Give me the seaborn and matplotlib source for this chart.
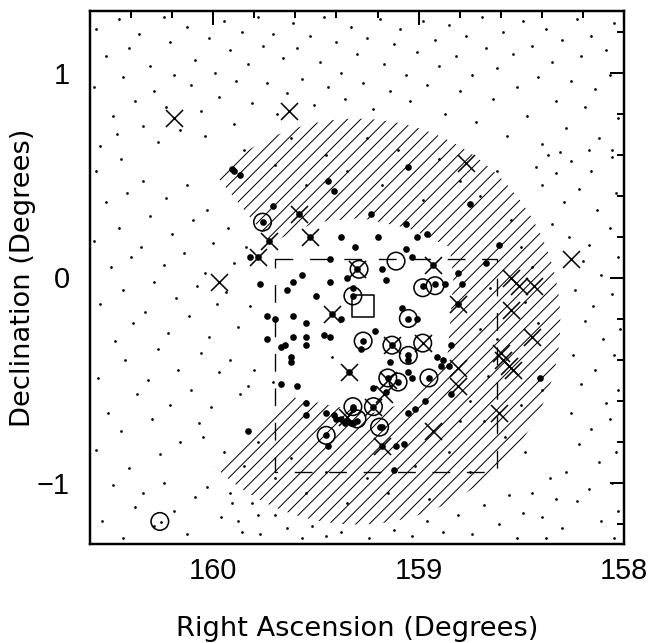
import matplotlib
matplotlib.use("Agg")
import matplotlib.pyplot as plt
import matplotlib.patches as mpatches
from matplotlib.path import Path
from matplotlib.ticker import MultipleLocator
import seaborn as sns

# ---- data (RA, Dec in degrees) ----
# faint field stars, north band
top_ra = [160.57, 160.52, 160.58, 160.49, 160.55, 160.46, 160.41, 160.44, 160.38, 160.47,
          160.36, 160.31, 160.29, 160.34, 160.27, 160.24, 160.21, 160.19, 160.23, 160.16,
          160.13, 160.09, 160.11, 160.06, 160.02, 160.04, 159.99, 159.97, 159.95, 159.92,
          159.89, 159.90, 159.86, 159.83, 159.81, 159.78, 159.76, 159.74, 159.71, 159.69,
          159.66, 159.64, 159.61, 159.59, 159.57, 159.53, 159.51, 159.48, 159.46, 159.44,
          159.40, 159.38, 159.36, 159.33, 159.30, 159.27, 159.25, 159.22, 159.19, 159.17,
          159.14, 159.12, 159.09, 159.06, 159.04, 159.01, 158.98, 158.96, 158.92, 158.90,
          158.87, 158.85, 158.82, 158.80, 158.77, 158.74, 158.72, 158.69, 158.67, 158.64,
          158.62, 158.59, 158.57, 158.54, 158.52, 158.49, 158.47, 158.45, 158.42, 158.40,
          158.38, 158.35, 158.33, 158.30, 158.28, 158.26, 158.23, 158.21, 158.19, 158.16,
          158.14, 158.12, 158.09, 158.07, 158.05, 158.03, 158.06, 158.17, 158.31]
top_dec = [1.21, 1.08, 0.93, 0.79, 0.64, 1.26, 1.12, 0.98, 0.86, 0.70,
           1.19, 1.03, 0.91, 0.74, 0.66, 1.27, 1.15, 0.99, 0.83, 0.72,
           1.22, 1.06, 0.94, 0.81, 1.17, 0.69, 1.00, 0.88, 1.25, 1.11,
           0.96, 0.75, 1.20, 1.04, 0.85, 1.27, 1.13, 0.95, 1.19, 0.80,
           1.07, 0.90, 1.24, 1.12, 0.97, 1.18, 0.84, 1.05, 1.27, 0.93,
           1.15, 1.00, 0.87, 1.22, 1.09, 0.95, 1.17, 0.82, 1.26, 1.04,
           0.91, 1.14, 1.21, 0.99, 0.86, 1.10, 1.25, 0.94, 1.16, 1.03,
           0.80, 1.23, 1.08, 0.91, 1.18, 0.99, 0.76, 1.27, 1.12, 0.87,
           1.02, 1.20, 0.69, 1.09, 0.93, 1.25, 0.79, 1.13, 0.98, 0.65,
           1.21, 1.05, 0.86, 1.16, 0.73, 0.96, 1.26, 1.08, 0.83, 1.18,
           0.92, 0.68, 1.11, 0.99, 1.24, 0.78, 0.62, 0.62, 0.61]

# faint field stars, east (left) band
left_ra = [160.57, 160.52, 160.58, 160.50, 160.55, 160.48, 160.56, 160.51, 160.57, 160.49,
           160.54, 160.45, 160.42, 160.46, 160.40, 160.44, 160.39, 160.43, 160.37, 160.45,
           160.41, 160.38, 160.44, 160.34, 160.31, 160.35, 160.29, 160.33, 160.27, 160.32,
           160.30, 160.26, 160.34, 160.29, 160.23, 160.20, 160.24, 160.18, 160.22, 160.17,
           160.21, 160.16, 160.19, 160.24, 160.13, 160.10, 160.14, 160.08, 160.12, 160.06,
           160.11, 160.07, 160.09, 160.13, 160.03, 160.00, 160.04, 159.98, 160.02, 159.97,
           160.01, 159.96, 160.03, 159.93, 159.90, 159.94, 159.88, 159.92, 159.87, 159.91,
           159.86, 159.84, 159.82, 159.80, 159.83, 159.78, 159.71, 159.42, 160.255]
left_dec = [0.52, 0.37, 0.18, 0.05, -0.13, -0.31, -0.49, -0.66, -0.84, -1.01,
            -1.19, 0.58, 0.41, 0.24, 0.10, -0.06, -0.22, -0.40, -0.57, -0.75,
            -0.93, -1.12, -1.27, 0.47, 0.30, 0.15, -0.02, -0.17, -0.35, -0.50,
            -0.69, -0.86, -1.05, -1.21, 0.39, 0.21, 0.06, -0.10, -0.27, -0.45,
            -0.62, -0.80, -1.14, -1.00, 0.45, 0.28, 0.12, -0.04, -0.19, -0.37,
            -0.55, -0.71, -1.07, -1.25, 0.33, 0.17, 0.02, -0.13, -0.29, -0.46,
            -0.63, -1.17, -1.02, 0.24, 0.07, -0.07, -0.24, -0.40, -0.57, -1.10,
            -1.24, 0.15, -0.14, -0.45, -0.53, -1.16, -0.51, -0.39, -1.195]

# faint field stars, west (right) band
right_ra = [158.43, 158.37, 158.40, 158.33, 158.29, 158.35, 158.26, 158.22, 158.27, 158.20,
            158.24, 158.19, 158.25, 158.21, 158.26, 158.22, 158.28, 158.23, 158.30, 158.16,
            158.13, 158.17, 158.11, 158.15, 158.10, 158.14, 158.09, 158.16, 158.12, 158.17,
            158.11, 158.06, 158.04, 158.07, 158.03, 158.06, 158.02, 158.05, 158.03, 158.07,
            158.04, 158.06, 158.03, 158.05, 158.36, 158.33, 158.40, 158.38, 158.45]
right_dec = [0.54, 0.60, 0.45, 0.51, 0.37, 0.26, 0.57, 0.43, 0.20, 0.08,
             -0.06, -0.21, -0.38, -0.52, -0.66, -0.81, -0.95, -1.09, -1.22, 0.52,
             0.33, 0.16, 0.01, -0.14, -0.30, -0.45, -0.61, -0.74, -0.90, -1.03,
             -1.19, 0.59, 0.41, 0.24, 0.10, -0.08, -0.25, -0.38, -0.55, -0.69,
             -0.85, -1.00, -1.14, -1.27, -0.98, -1.08, -1.17, -1.27, -1.05]

# faint field stars, south band and inside the hatched annulus
low_ra = [159.92, 159.88, 159.81, 159.77, 159.70, 159.64, 159.57, 159.52, 159.45, 159.38,
          159.24, 159.12, 159.03, 158.96, 158.88, 158.81, 158.74, 158.68, 158.61, 158.56,
          158.52, 158.49,
          159.85, 159.70, 159.62, 159.55, 159.45, 159.35, 159.25, 159.18, 159.10, 158.98,
          158.90, 158.80, 158.70, 158.62, 158.55, 158.50, 158.45,
          158.65, 158.70, 158.62, 158.48, 158.42, 158.40, 158.50, 158.66, 158.75, 158.58,
          158.48,
          160.05, 159.95, 159.85, 159.78, 159.70, 159.62, 159.55, 159.45, 159.35, 159.25,
          159.15, 159.02, 158.95, 158.85, 158.75, 158.68, 158.80]
low_dec = [-1.05, -1.19, -1.10, -1.25, -1.16, -1.22, -1.27, -1.21, -1.26, -1.24,
           -1.27, -1.23, -1.26, -1.19, -1.24, -1.16, -1.25, -1.11, -1.20, -1.06,
           -1.27, -1.15,
           0.62, 0.55, 0.68, 0.45, 0.60, 0.52, 0.68, 0.45, 0.62, 0.38,
           0.58, 0.47, 0.40, 0.52, 0.28, 0.15, 0.05,
           -0.05, -0.25, -0.30, -0.12, -0.22, -0.55, -0.62, -0.48, -0.60, -0.78,
           -0.85,
           -0.78, -0.85, -0.92, -0.80, -0.98, -0.88, -1.05, -0.95, -1.10, -0.98,
           -1.05, -0.92, -1.08, -0.85, -0.95, -0.70, -0.70]

# cluster members (filled dots)
member_ra = [159.91, 159.90, 159.87, 159.05, 159.44, 159.41, 159.71, 158.75, 159.23, 159.06,
             159.38, 159.20, 159.01, 158.96, 158.61, 159.31, 159.82, 159.43, 159.06, 159.03,
             158.67, 159.18, 159.16, 159.35, 159.57, 159.61, 159.43, 158.81, 158.79, 158.87,
             159.77, 159.64, 159.32, 159.50, 159.74, 159.70, 159.61, 159.55, 159.38, 159.46,
             159.43, 159.61, 159.55, 159.74, 159.55, 159.65, 159.67, 159.62, 159.62, 159.21,
             159.28, 159.08, 159.01, 158.84, 159.14, 159.05, 159.05, 159.03, 158.91, 158.88,
             158.85, 158.89, 159.67, 159.59, 159.22, 159.16, 159.05, 159.02, 158.97, 158.84,
             158.41, 159.55, 159.55, 159.45, 159.41, 159.38, 159.35, 159.33, 159.30, 159.36,
             159.32, 159.40, 159.32, 159.18, 159.44, 159.12, 159.83, 159.11, 159.07,
             159.58, 159.53, 159.73, 159.78, 159.30, 158.93, 158.81, 159.42, 159.34, 159.18,
             159.76, 159.32, 159.05, 159.27, 158.98, 158.92, 158.95, 159.32, 159.19, 159.45,
             159.13, 159.05, 159.10, 159.15, 159.22]
member_dec = [0.53, 0.52, 0.50, 0.54, 0.47, 0.42, 0.35, 0.36, 0.31, 0.26,
              0.20, 0.20, 0.20, 0.21, 0.16, 0.15, 0.10, 0.09, 0.14, 0.10,
              0.07, 0.04, -0.01, 0.00, 0.01, -0.02, -0.02, 0.02, -0.03, -0.03,
              -0.03, -0.06, -0.05, -0.09, -0.19, -0.20, -0.19, -0.22, -0.20, -0.28,
              -0.29, -0.29, -0.29, -0.30, -0.33, -0.33, -0.34, -0.39, -0.41, -0.26,
              -0.35, -0.15, -0.20, -0.33, -0.41, -0.40, -0.46, -0.49, -0.39, -0.40,
              -0.43, -0.43, -0.52, -0.53, -0.54, -0.56, -0.66, -0.64, -0.60, -0.57,
              -0.49, -0.61, -0.67, -0.66, -0.67, -0.69, -0.70, -0.71, -0.70, -0.71,
              -0.71, -0.69, -0.64, -0.73, -0.82, -0.94, -0.75, -0.82, -0.81,
              0.31, 0.20, 0.18, 0.10, 0.04, 0.06, -0.13, -0.18, -0.46, -0.82,
              0.27, -0.09, -0.20, -0.31, -0.04, -0.03, -0.49, -0.63, -0.73, -0.77,
              -0.33, -0.38, -0.51, -0.49, -0.63]

circle_ra = [159.76, 159.29, 159.11, 158.98, 158.92, 159.32, 159.05, 159.27, 159.13, 159.05,
             158.98, 158.95, 159.10, 159.15, 159.32, 159.22, 159.19, 159.45, 159.30, 160.26]
circle_dec = [0.27, 0.04, 0.08, -0.05, -0.04, -0.09, -0.20, -0.31, -0.33, -0.38,
              -0.32, -0.49, -0.51, -0.49, -0.63, -0.63, -0.73, -0.77, -0.69, -1.19]

cross_ra = [160.19, 159.63, 158.77, 159.58, 159.53, 159.73, 159.78, 159.97, 159.30, 158.93,
            158.26, 158.55, 158.51, 158.44, 158.55, 158.81, 159.42, 158.45, 158.98, 159.13,
            158.60, 158.56, 158.54, 158.81, 158.81, 159.34, 159.15, 159.22, 159.17, 158.61,
            158.93, 159.18, 159.35, 158.59]
cross_dec = [0.78, 0.81, 0.56, 0.31, 0.20, 0.18, 0.10, -0.02, 0.04, 0.06,
             0.09, 0.00, -0.04, -0.04, -0.16, -0.13, -0.18, -0.29, -0.32, -0.33,
             -0.37, -0.43, -0.45, -0.44, -0.53, -0.46, -0.50, -0.63, -0.57, -0.66,
             -0.75, -0.82, -0.68, -0.40]

centre_ra = [159.27]
centre_dec = [-0.14]

# dashed field box
box_ra = [159.70, 158.62, 158.62, 159.70, 159.70]
box_dec = [0.09, 0.09, -0.95, -0.95, 0.09]

# hatched survey annulus: outer circle minus the inner hole (open towards the east)
ring_center = (159.30, -0.215)
ring_radius = 0.99
hole_ra = [160.7, 159.98, 159.72, 159.50, 159.28, 159.05, 158.85, 158.83, 158.85, 158.86,
           159.03, 159.22, 159.40, 159.63, 159.81, 159.98, 160.7]
hole_dec = [0.49, 0.49, 0.17, 0.27, 0.29, 0.24, 0.15, 0.0, -0.26, -0.39,
            -0.60, -0.66, -0.63, -0.58, -0.74, -0.92, -0.92]


def signed_area(pts):
    return 0.5 * sum(x0 * y1 - x1 * y0 for (x0, y0), (x1, y1) in zip(pts, pts[1:] + pts[:1]))


# ---- figure ----
sns.set_style("white")
plt.rcParams["font.family"] = ["Liberation Sans", "DejaVu Sans"]
plt.rcParams["lines.scale_dashes"] = False
plt.rcParams["hatch.linewidth"] = 0.9
for key in ["text.color", "axes.labelcolor", "xtick.color", "ytick.color", "axes.edgecolor"]:
    plt.rcParams[key] = "black"

DPI = 80
fig = plt.figure(figsize=(653 / DPI, 643 / DPI), dpi=DPI)
ax = fig.add_axes([90 / 653, 1 - 544 / 643, 534 / 653, 533 / 643])

ring = mpatches.Circle(ring_center, ring_radius, facecolor="none", edgecolor="black",
                       linewidth=0, hatch="//", zorder=1)
ax.add_patch(ring)
outer = [(161.0, -2.0), (157.0, -2.0), (157.0, 2.0), (161.0, 2.0)]
hole = list(zip(hole_ra, hole_dec))
if (signed_area(outer) > 0) == (signed_area(hole) > 0):
    hole = hole[::-1]
verts = outer + [outer[0]] + hole + [hole[0]]
codes = ([Path.MOVETO] + [Path.LINETO] * 3 + [Path.CLOSEPOLY]
         + [Path.MOVETO] + [Path.LINETO] * (len(hole) - 1) + [Path.CLOSEPOLY])
clip = mpatches.PathPatch(Path(verts, codes), transform=ax.transData)
ring.set_clip_path(clip)

for fra, fdec in [(top_ra, top_dec), (left_ra, left_dec), (right_ra, right_dec), (low_ra, low_dec)]:
    sns.scatterplot(x=fra, y=fdec, s=6, color="black", linewidth=0, ax=ax, zorder=2)
sns.scatterplot(x=member_ra, y=member_dec, s=36, color="black", linewidth=0, ax=ax, zorder=3)
sns.scatterplot(x=circle_ra, y=circle_dec, s=250, marker="o", facecolor="none",
                edgecolor="black", linewidth=1.4, ax=ax, zorder=4)
sns.scatterplot(x=cross_ra, y=cross_dec, s=235, marker="x", color="black",
                linewidth=1.4, ax=ax, zorder=4)
sns.scatterplot(x=centre_ra, y=centre_dec, s=380, marker="s", facecolor="none",
                edgecolor="black", linewidth=1.4, ax=ax, zorder=4)
ax.plot(box_ra, box_dec, color="black", linewidth=1.2, dashes=[16, 15], zorder=2)

ax.set_xlim(160.6, 158.0)
ax.set_ylim(-1.3, 1.3)
ax.xaxis.set_major_locator(MultipleLocator(1))
ax.xaxis.set_minor_locator(MultipleLocator(0.2))
ax.yaxis.set_major_locator(MultipleLocator(1))
ax.yaxis.set_minor_locator(MultipleLocator(0.2))
ax.tick_params(which="both", direction="in", top=True, right=True, width=1.8,
               color="black", labelcolor="black", labelsize=26)
ax.tick_params(which="major", length=12.6)
ax.tick_params(which="minor", length=6.3)
ax.tick_params(axis="x", which="major", pad=12)
ax.tick_params(axis="y", which="major", pad=18)
for sp in ax.spines.values():
    sp.set_linewidth(2.2)
    sp.set_color("black")

ax.set_xlabel("Right Ascension (Degrees)", fontsize=24.5, family=["DejaVu Sans"],
              color="black", labelpad=28)
ax.set_ylabel("Declination (Degrees)", fontsize=24.5, family=["DejaVu Sans"],
              color="black", labelpad=1)

fig.savefig("out.png", dpi=DPI, facecolor="white")
